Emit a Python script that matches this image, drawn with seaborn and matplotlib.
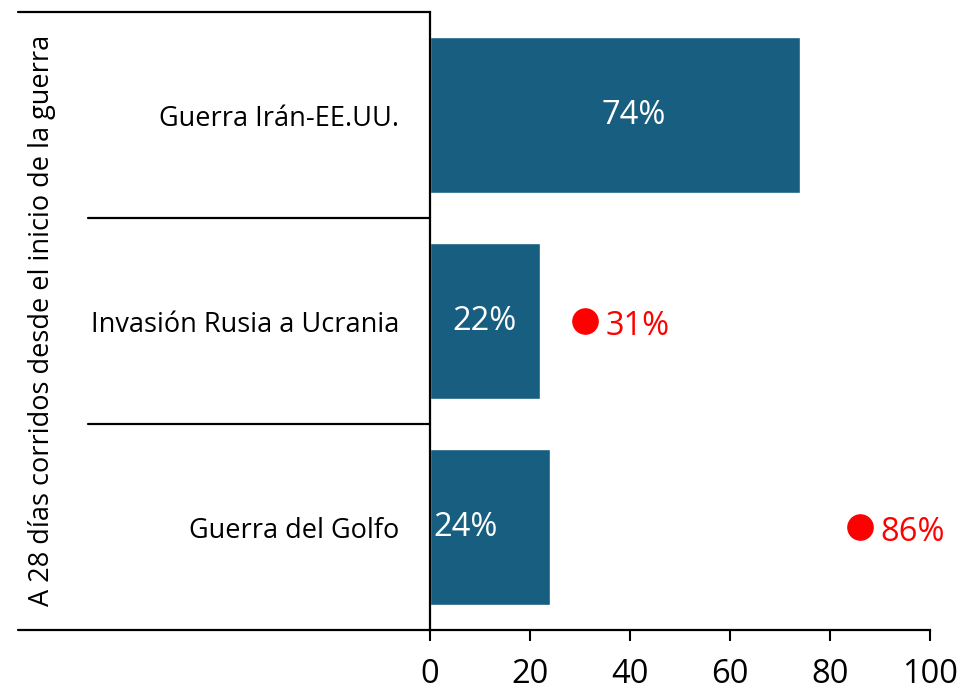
import matplotlib
matplotlib.use("Agg")
import matplotlib.pyplot as plt
import matplotlib.transforms as mtransforms
import pandas as pd
import seaborn as sns

# data
categories = ["Guerra Irán-EE.UU.", "Invasión Rusia a Ucrania", "Guerra del Golfo"]
values = [74, 22, 24]
ref_categories = ["Invasión Rusia a Ucrania", "Guerra del Golfo"]
ref_values = [31, 86]
x_ticks = [0, 20, 40, 60, 80, 100]
side_title = "A 28 días corridos desde el inicio de la guerra"

# where each bar label sits, as a fraction of the bar length
label_frac = [0.55, 0.5, 0.30]

BAR_COLOR = "#175E80"
RED = "#FF0000"

sns.set_style("white")
plt.rcParams["font.family"] = ["Open Sans", "DejaVu Sans"]
plt.rcParams["text.color"] = "black"
plt.rcParams["xtick.color"] = "black"
plt.rcParams["ytick.color"] = "black"

df = pd.DataFrame({"categoria": categories, "valor": values})

fig = plt.figure(figsize=(9.61, 6.90), dpi=100)
ax = fig.add_axes([430 / 961, 60 / 690, 500 / 961, 618 / 690])

sns.barplot(data=df, x="valor", y="categoria", orient="h", color=BAR_COLOR,
            width=0.76, saturation=1, ax=ax)

# red reference points with their labels
ref_pos = [categories.index(c) for c in ref_categories]
ax.scatter(ref_values, ref_pos, s=330, color=RED, zorder=5, clip_on=False)
for v, p in zip(ref_values, ref_pos):
    ax.annotate(f"{v}%", (v, p), xytext=(15, -4), textcoords="offset points",
                ha="left", va="center", color=RED, fontsize=23.5)

# bar value labels
for i, (v, f) in enumerate(zip(values, label_frac)):
    ax.text(v * f, i, f"{v}%", ha="center", va="center", color="white", fontsize=23.5)

ax.set_xlim(0, 100)
ax.set_ylim(2.5, -0.5)
ax.set_xticks(x_ticks)
ax.set_xlabel("")
ax.set_ylabel("")
ax.tick_params(axis="x", direction="out", length=8, width=1.5, pad=12, labelsize=23.5,
               bottom=True)
ax.tick_params(axis="y", length=0, pad=22, labelsize=19.5)

for side in ["top", "right"]:
    ax.spines[side].set_visible(False)
for side in ["left", "bottom"]:
    ax.spines[side].set_linewidth(1.6)
    ax.spines[side].set_color("black")

# frame lines of the category area on the left
trans = mtransforms.blended_transform_factory(ax.transAxes, ax.transData)
x_outer = (18 - 430) / 500
x_inner = (88 - 430) / 500
ax.plot([x_outer, 0], [-0.5, -0.5], transform=trans, color="black", lw=1.6, clip_on=False)
ax.plot([x_outer, 0], [2.5, 2.5], transform=trans, color="black", lw=1.6, clip_on=False)
for b in [0.5, 1.5]:
    ax.plot([x_inner, 0], [b, b], transform=trans, color="black", lw=1.6, clip_on=False)

fig.text(42 / 961, 1 - 320 / 690, side_title, rotation=90, ha="center", va="center",
         fontsize=19.5)

fig.savefig("out.png", dpi=100)
